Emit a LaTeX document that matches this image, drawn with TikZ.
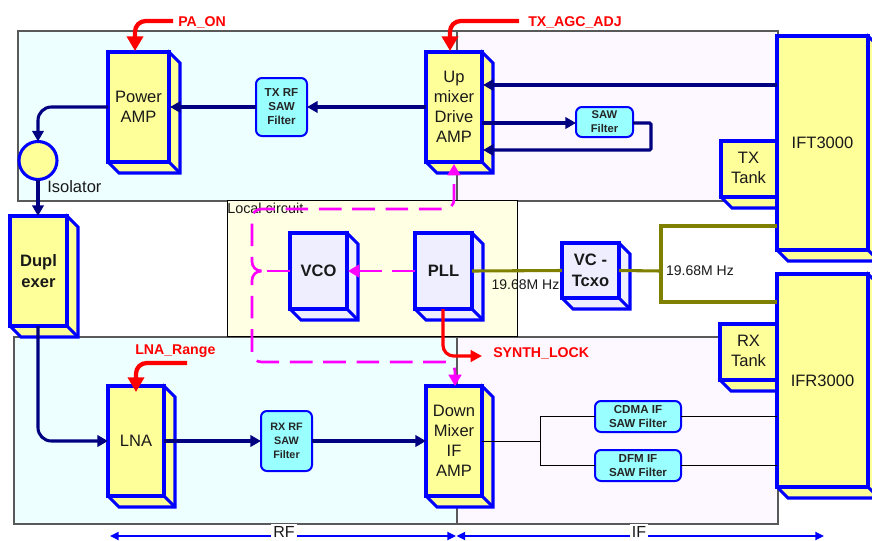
\documentclass[tikz,border=0pt]{standalone}
\usepackage{fontspec}
\setmainfont{Liberation Sans}
\usetikzlibrary{arrows.meta,calc}
\definecolor{blk}{HTML}{0000FF}
\definecolor{navyl}{HTML}{000080}
\definecolor{yel}{HTML}{FFFF99}
\definecolor{vco}{HTML}{EEEEFF}
\definecolor{saw}{HTML}{99FFFF}
\definecolor{rfbg}{HTML}{EEFFFF}
\definecolor{ifbg}{HTML}{FDF7FF}
\definecolor{localbg}{HTML}{FFFFE3}
\definecolor{oliv}{HTML}{808000}
\definecolor{magn}{HTML}{FF00FF}
\tikzset{
  region/.style={draw=black!65,line width=0.8pt,fill=#1},
  front/.style={draw=blk,line width=2.3pt,fill=#1,line join=miter,align=center,inner sep=0pt,outer sep=0pt,text=black!90},
  sawbox/.style={draw=blk,line width=1.5pt,fill=saw,rounded corners=4.5pt,align=center,inner sep=0pt,outer sep=0pt,text=black!85,font=\bfseries\fontsize{#1}{10.5}\selectfont},
  sig/.style={draw=navyl,line width=2.3pt,rounded corners=10pt,-{Triangle[length=8pt,width=8.5pt]}},
  sigplain/.style={draw=navyl,line width=2.3pt,rounded corners=1pt},
  ctl/.style={draw=red,line width=3.2pt,rounded corners=8pt,-{Triangle[length=11pt,width=12pt]}},
  lock/.style={draw=red,line width=2.4pt,rounded corners=8pt,-{Triangle[length=8.5pt,width=8.5pt]}},
  clk/.style={draw=oliv,line width=2.3pt,line join=miter},
  hairline/.style={draw=black,line width=0.7pt},
  lo/.style={draw=magn,line width=2pt,dash pattern=on 17pt off 8pt,rounded corners=9pt},
  lotip/.style={-{Triangle[length=8.5pt,width=9.5pt]}},
  txt/.style={font=\fontsize{#1}{15}\selectfont,align=center,inner sep=0pt,text=black!90},
  redtxt/.style={font=\bfseries\fontsize{10.6}{12}\selectfont,text=red,inner sep=0pt},
  span/.style={draw=blk,line width=1.6pt,-{Triangle[length=6.5pt,width=6pt]}},
}
% name, x1, y1, x2, y2, fill, font, text  (pixel units, depth 11)
\newcommand{\cubebox}[8]{%
  \fill[#6,draw=blk,line width=2.3pt,line join=miter] (#2,#5) -- (#2+11,#5+11) -- (#4+11,#5+11) -- (#4+11,#3+11) -- (#4,#3) -- cycle;
  \draw[blk,line width=2.3pt] (#4,#5) -- (#4+11,#5+11);
  \node[front=#6,font=#7,minimum width={(#4-#2)*0.75pt},minimum height={(#5-#3)*0.75pt}] (#1) at ({(#2+#4)/2},{(#3+#5)/2}) {#8};%
}
\newcommand{\yfont}{\fontsize{12.4}{15}\selectfont}
\newcommand{\bfont}{\bfseries\fontsize{12.4}{15.5}\selectfont}
\begin{document}
\begin{tikzpicture}[x=0.75pt,y=-0.75pt]
\useasboundingbox (0,0) rectangle (872,540);
\clip (0,0) rectangle (872,540);
\fill[white] (0,0) rectangle (872,540);
% regions
\path[region=ifbg] (457,31) rectangle (778,201);
\path[region=rfbg] (18,31) rectangle (457,201);
\path[region=ifbg] (457,337) rectangle (778,524);
\path[region=rfbg] (14,337) rectangle (457,524);
\draw[draw=black,line width=0.6pt,fill=localbg] (227,200) rectangle (517,336);
\node[font=\fontsize{10.8}{12}\selectfont,anchor=west,inner sep=0pt,text=black!90] (lc) at (227,208) {Local circuit};
% blocks
\cubebox{pa}{108}{52}{169}{162}{yel}{\yfont}{Power\\AMP}
\cubebox{up}{426}{52}{482}{162}{yel}{\yfont}{Up\\mixer\\Drive\\AMP}
\cubebox{dup}{10}{216}{67}{326}{yel}{\bfont}{Dupl\\exer}
\cubebox{vcobox}{290}{233}{347}{309}{vco}{\bfont}{VCO}
\cubebox{pll}{415}{233}{472}{309}{vco}{\bfont}{PLL}
\cubebox{tcxo}{562}{243}{619}{298}{vco}{\bfont}{VC -\\Tcxo}
\cubebox{lna}{108}{386}{164}{496}{yel}{\yfont}{LNA}
\cubebox{down}{426}{386}{482}{496}{yel}{\yfont}{Down\\Mixer\\IF\\AMP}
\cubebox{txtank}{721}{141}{790}{197}{yel}{\yfont}{}
\cubebox{rxtank}{720}{324}{790}{380}{yel}{\yfont}{}
\cubebox{ift}{777}{36}{868}{250}{yel}{\yfont}{IFT3000}
\cubebox{ifr}{777}{274}{868}{487}{yel}{\yfont}{IFR3000}
\node[txt=12.4] (txl) at (748.5,168) {TX\\Tank};
\node[txt=12.4] (rxl) at (748.5,351) {RX\\Tank};
\node[draw=blk,line width=2.3pt,fill=yel,circle,minimum size={38*0.75pt},inner sep=0pt,outer sep=0pt] (iso) at (38,160.5) {};
\node[txt=12.4,anchor=west] (isol) at (47,187) {Isolator};
% filters
\node[sawbox=8.7,minimum width={51*0.75pt},minimum height={58*0.75pt}] (txsaw) at (281.5,107) {TX RF\\SAW\\Filter};
\node[sawbox=8.4,minimum width={57*0.75pt},minimum height={30*0.75pt}] (sawf) at (604.5,122) {SAW\\Filter};
\node[sawbox=8.1,minimum width={51*0.75pt},minimum height={60*0.75pt}] (rxsaw) at (286.5,441) {RX RF\\SAW\\Filter};
\node[sawbox=8.7,minimum width={86*0.75pt},minimum height={31*0.75pt}] (cdma) at (638,416.5) {CDMA IF\\SAW Filter};
\node[sawbox=8.7,minimum width={86*0.75pt},minimum height={31*0.75pt}] (dfm) at (638,465.5) {DFM IF\\SAW Filter};
% helper points
\coordinate (upA) at (493,85);
\coordinate (upB) at (482,123);
\coordinate (upC) at (483,150);
\coordinate (turn) at (651,150);
\coordinate (split) at (540,441);
\coordinate (mid) at (661,271);
\coordinate (iftclk) at (777,226);
\coordinate (ifrclk) at (777,302);
\coordinate (pacs) at (173,21);
\coordinate (agcs) at (519,21);
\coordinate (lnas) at (187,363);
\coordinate (lobr) at (258,271);
% RF chain
\draw[sig] (txsaw.west) -- (170,107);
\draw[sig] (up.west) -- (txsaw.east);
\draw[sig] (pa.west) -- (38,107) -- (iso.north);
\draw[sig] (iso.south) -- (dup.north -| iso.south);
\draw[sig] (38,326) -- (38,441) -- (lna.west);
\draw[sig] (lna.east) -- (rxsaw.west);
\draw[sig] (rxsaw.east) -- (down.west);
\draw[sig] (ift.west |- upA) -- (483,85);
\draw[sig] (upB) -- (sawf.west |- upB);
\draw[sigplain,-{Triangle[length=8pt,width=8.5pt]}] (sawf.east |- upB) -- (651,123) -- (turn) -- (upC);
% IF chain
\draw[hairline] (down.east) -- (split);
\draw[hairline] (cdma.west) -| (split);
\draw[hairline] (dfm.west) -| (split);
\draw[hairline] (cdma.east) -- (ifr.west |- cdma.east);
\draw[hairline] (dfm.east) -- (ifr.west |- dfm.east);
% clock
\draw[clk] (pll.east) -- (tcxo.west);
\draw[clk] (tcxo.east) -- (mid);
\draw[clk] (iftclk) -- (iftclk -| mid) -- (ifrclk -| mid) -- (ifrclk);
\node[font=\fontsize{10.5}{12}\selectfont,inner sep=0pt,text=black!90] (f1) at (525.5,285) {19.68M Hz};
\node[font=\fontsize{10.5}{12}\selectfont,inner sep=0pt,text=black!90] (f2) at (700,271) {19.68M Hz};
% local oscillator
\draw[lo,lotip] (pll.west) -- (348,271);
\draw[lo] (vcobox.west) -- (lobr);
\draw[lo,lotip,rounded corners=7pt] (lobr) -- (252,271) -- (252,209) -- (454,209) -- (454,164);
\draw[lo,lotip,rounded corners=7pt] (lobr) -- (252,271) -- (252,362) -- (455,362) -- (455,386);
% controls
\draw[ctl] (pacs) -- (135,21) -- (135,51);
\draw[ctl] (agcs) -- (450,21) -- (450,51);
\draw[ctl] (lnas) -- (136,363) -- (136,392);
\draw[lock] (443,309) -- (443,356) -- (482,356);
\node[redtxt,anchor=west] (paon) at (178,22) {PA\_ON};
\node[redtxt,anchor=west] (agc) at (528,22) {TX\_AGC\_ADJ};
\node[redtxt,anchor=west] (lnar) at (135,351) {LNA\_Range};
\node[redtxt,anchor=west] (slock) at (493,353) {SYNTH\_LOCK};
% spans
\node[fill=white,font=\fontsize{12}{15}\selectfont,inner sep=1.5pt,text=black!90] (rf) at (284,531.5) {RF};
\node[fill=white,font=\fontsize{12}{15}\selectfont,inner sep=1.5pt,text=black!90] (if) at (639,531.5) {IF};
\coordinate (rfl) at (110,536);
\coordinate (rfr) at (456,536);
\coordinate (ifl) at (456.5,536);
\coordinate (ifr2) at (824,536);
\draw[span] (rf.west |- rfl) -- (rfl);
\draw[span] (rf.east |- rfl) -- (rfr);
\draw[span] (if.west |- ifl) -- (ifl);
\draw[span] (if.east |- ifl) -- (ifr2);
\end{tikzpicture}
\end{document}
